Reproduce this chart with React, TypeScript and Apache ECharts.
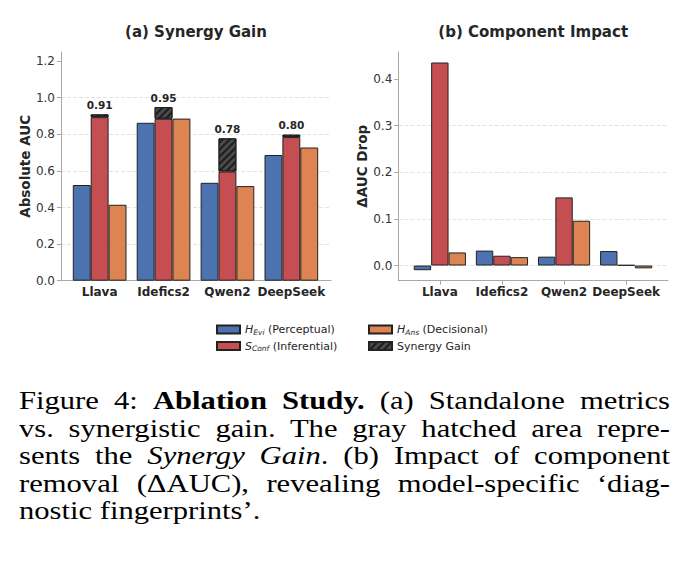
import React, { useEffect, useRef } from "react";
import * as echarts from "echarts";

const categories = ["Llava", "Idefics2", "Qwen2", "DeepSeek"];

// (a) Synergy Gain — absolute AUC
const synHEvi = [0.523, 0.863, 0.535, 0.687];
const synSConf = [0.894, 0.885, 0.597, 0.785];
const synHAns = [0.415, 0.886, 0.517, 0.728];
const synergyTotal = [0.909, 0.949, 0.778, 0.798];

// (b) Component Impact — ΔAUC drop
const dropHEvi = [-0.01, 0.032, 0.019, 0.031];
const dropSConf = [0.435, 0.021, 0.146, 0.001];
const dropHAns = [0.028, 0.018, 0.096, -0.006];

const leftTicks = [0, 0.2, 0.4, 0.6, 0.8, 1.0, 1.2];
const rightTicks = [0, 0.1, 0.2, 0.3, 0.4];

const NAME_EVI = "H_Evi (Perceptual)";
const NAME_CONF = "S_Conf (Inferential)";
const NAME_ANS = "H_Ans (Decisional)";
const NAME_GAIN = "Synergy Gain";

const BLUE = "#4c72b0";
const RED = "#c44e52";
const ORANGE = "#dd8452";
const HATCH = "#4a4a4a";
const FONT = "DejaVu Sans";
const TXT = "#262626";
const SPINE = "#a8a8a8";

const synergyGain = synergyTotal.map((t, i) => +(t - synSConf[i]).toFixed(4));

const legendNames: Record<string, string> = {
  [NAME_EVI]: "{it|H}{sub|Evi} (Perceptual)",
  [NAME_CONF]: "{it|S}{sub|Conf} (Inferential)",
  [NAME_ANS]: "{it|H}{sub|Ans} (Decisional)",
  [NAME_GAIN]: "Synergy Gain",
};

const hatchDecal = {
  symbol: "rect",
  symbolSize: 1,
  dashArrayX: [1, 0],
  dashArrayY: [1.5, 3],
  rotation: -Math.PI / 4,
  color: "rgba(20,20,20,0.85)",
};

const barBorder = { borderColor: "#222", borderWidth: 1 };

function frameY(gridIndex: number, min: number, max: number, ticks: number[], name: string, nameGap: number) {
  return {
    type: "value",
    gridIndex,
    min,
    max,
    name,
    nameLocation: "middle",
    nameGap,
    nameTextStyle: { fontFamily: FONT, fontWeight: "bold", fontSize: 13.5, color: TXT },
    axisLine: { show: true, lineStyle: { color: SPINE, width: 1 } },
    axisTick: { show: true, length: 4, customValues: ticks, lineStyle: { color: SPINE } },
    axisLabel: {
      show: true,
      customValues: ticks,
      margin: 6,
      fontFamily: FONT,
      fontSize: 12,
      color: "#333",
      formatter: (v: number) => v.toFixed(1),
    },
    splitLine: {
      show: true,
      showMaxLine: false,
      lineStyle: { color: "#dcdcdc", type: [4, 2], width: 0.8 },
    },
  };
}

function frameX(gridIndex: number) {
  return {
    type: "value",
    gridIndex,
    min: 0,
    max: 1,
    axisLine: { show: true, onZero: false, lineStyle: { color: SPINE, width: 1 } },
    axisTick: { show: false },
    axisLabel: { show: false },
    splitLine: { show: false },
  };
}

function catX(gridIndex: number, ticks: boolean) {
  return {
    type: "category",
    gridIndex,
    data: categories,
    axisLine: { show: false, onZero: false },
    axisTick: { show: ticks, alignWithLabel: true, length: 4, lineStyle: { color: SPINE } },
    axisLabel: {
      interval: 0,
      hideOverlap: false,
      fontFamily: FONT,
      fontWeight: "bold",
      fontSize: 12,
      color: TXT,
      margin: 5,
    },
  };
}

export default function App() {
  const ref = useRef<HTMLDivElement>(null);

  useEffect(() => {
    if (!ref.current) return;
    const chart = echarts.init(ref.current, undefined, { renderer: "svg" });
    const gridTop = 52;
    const gridH = 228.7;
    const option: any = {
      animation: false,
      backgroundColor: "#fff",
      textStyle: { fontFamily: FONT },
      grid: [
        { left: 67.7, top: gridTop, width: 255.6, height: gridH },
        { left: 61, top: gridTop, width: 270, height: gridH },
        { left: 408.8, top: gridTop, width: 248.4, height: gridH },
        { left: 398.3, top: gridTop, width: 269.7, height: gridH },
      ],
      xAxis: [catX(0, false), frameX(1), catX(2, true), frameX(3)],
      yAxis: [
        { type: "value", gridIndex: 0, min: 0, max: 1.25, show: false },
        frameY(1, 0, 1.25, leftTicks, "Absolute AUC", 29),
        { type: "value", gridIndex: 2, min: -0.0325, max: 0.4575, show: false },
        frameY(3, -0.0325, 0.4575, rightTicks, "ΔAUC Drop", 26.5),
      ],
      legend: [
        [NAME_EVI, 216, 324],
        [NAME_CONF, 216, 340.5],
        [NAME_ANS, 368, 324],
        [NAME_GAIN, 368, 340.5],
      ].map(([n, l, t]) => ({
        data: [n],
        left: l,
        top: t,
        padding: 0,
        itemWidth: 23,
        itemHeight: 8,
        icon: "rect",
        selectedMode: false,
        formatter: (name: string) => legendNames[name],
        textStyle: {
          fontFamily: FONT,
          fontSize: 11,
          color: TXT,
          rich: {
            it: { fontFamily: FONT, fontSize: 11, fontStyle: "italic", color: TXT },
            sub: {
              fontFamily: FONT,
              fontSize: 7.5,
              fontStyle: "italic",
              color: TXT,
              verticalAlign: "bottom",
              padding: [0, 0, -1, 0],
            },
          },
        },
      })),
      graphic: [
        {
          type: "text",
          x: 196,
          y: 32,
          style: {
            text: "(a) Synergy Gain",
            fontFamily: FONT,
            fontWeight: "bold",
            fontSize: 15,
            fill: TXT,
            textAlign: "center",
            textVerticalAlign: "middle",
          },
        },
        {
          type: "text",
          x: 533.2,
          y: 32,
          style: {
            text: "(b) Component Impact",
            fontFamily: FONT,
            fontWeight: "bold",
            fontSize: 15,
            fill: TXT,
            textAlign: "center",
            textVerticalAlign: "middle",
          },
        },
      ],
      series: [
        {
          name: NAME_EVI,
          type: "bar",
          xAxisIndex: 0,
          yAxisIndex: 0,
          data: synHEvi,
          barWidth: "28%",
          barGap: "0%",
          itemStyle: { color: BLUE, ...barBorder },
        },
        {
          name: NAME_CONF,
          type: "bar",
          xAxisIndex: 0,
          yAxisIndex: 0,
          stack: "syn",
          data: synSConf,
          barWidth: "28%",
          barGap: "0%",
          itemStyle: { color: RED, ...barBorder },
        },
        {
          name: NAME_GAIN,
          type: "bar",
          xAxisIndex: 0,
          yAxisIndex: 0,
          stack: "syn",
          data: synergyGain,
          barWidth: "28%",
          barGap: "0%",
          itemStyle: { color: HATCH, ...barBorder, decal: hatchDecal },
          label: {
            show: true,
            position: "top",
            distance: 4,
            fontFamily: FONT,
            fontWeight: "bold",
            fontSize: 10.5,
            color: TXT,
            formatter: (p: any) => synergyTotal[p.dataIndex].toFixed(2),
          },
        },
        {
          name: NAME_ANS,
          type: "bar",
          xAxisIndex: 0,
          yAxisIndex: 0,
          data: synHAns,
          barWidth: "28%",
          barGap: "0%",
          itemStyle: { color: ORANGE, ...barBorder },
        },
        {
          name: NAME_EVI,
          type: "bar",
          xAxisIndex: 2,
          yAxisIndex: 2,
          data: dropHEvi,
          barWidth: "28%",
          barGap: "0%",
          itemStyle: { color: BLUE, ...barBorder },
        },
        {
          name: NAME_CONF,
          type: "bar",
          xAxisIndex: 2,
          yAxisIndex: 2,
          data: dropSConf,
          barWidth: "28%",
          barGap: "0%",
          itemStyle: { color: RED, ...barBorder },
        },
        {
          name: NAME_ANS,
          type: "bar",
          xAxisIndex: 2,
          yAxisIndex: 2,
          data: dropHAns,
          barWidth: "28%",
          barGap: "0%",
          itemStyle: { color: ORANGE, ...barBorder },
        },
      ],
    };
    chart.setOption(option);
    return () => chart.dispose();
  }, []);

  const SCALE = 1.2;
  const lineStyle: React.CSSProperties = {
    textAlign: "justify",
    textAlignLast: "justify" as any,
    whiteSpace: "nowrap",
  };

  return (
    <div style={{ position: "fixed", left: 0, top: 0, width: 691, height: 570, background: "#fff", overflow: "hidden" }}>
      <div ref={ref} style={{ position: "absolute", left: 0, top: 0, width: 691, height: 380 }} />
      <div
        style={{
          position: "absolute",
          left: 19,
          top: 387,
          width: 651 / SCALE,
          transform: `scaleX(${SCALE})`,
          transformOrigin: "0 0",
          fontFamily: "'Liberation Serif', serif",
          fontSize: 25.5,
          lineHeight: "27.5px",
          color: "#000",
        }}
      >
        <div style={lineStyle}>
          Figure 4: <b>Ablation Study.</b> (a) Standalone metrics
        </div>
        <div style={lineStyle}>vs. synergistic gain. The gray hatched area repre-</div>
        <div style={lineStyle}>
          sents the <i>Synergy Gain</i>. (b) Impact of component
        </div>
        <div style={lineStyle}>removal (ΔAUC), revealing model-specific ‘diag-</div>
        <div style={{ whiteSpace: "nowrap" }}>nostic fingerprints’.</div>
      </div>
    </div>
  );
}
